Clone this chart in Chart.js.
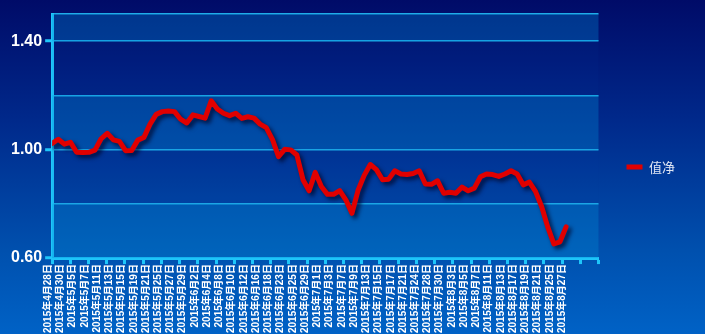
<!DOCTYPE html>
<html>
<head>
<meta charset="utf-8">
<script src="https://cdn.jsdelivr.net/npm/chart.js@4/dist/chart.umd.min.js"></script>
<style>
    html, body { margin: 0; padding: 0; }
    body { background: linear-gradient(to bottom, #000b68 0%, #00288a 35%, #0050ae 75%, #0062c6 100%); }
    #wrap { position: relative; width: 705px; height: 334px; }
</style>
</head>
<body>
<div id="wrap"><canvas id="navChart"></canvas></div>
<script>
// Trading days (x categories)
const dates = [
    '2015年4月28日', '2015年4月29日', '2015年4月30日', '2015年5月4日', '2015年5月5日', '2015年5月6日', '2015年5月7日', '2015年5月8日',
    '2015年5月11日', '2015年5月12日', '2015年5月13日', '2015年5月14日', '2015年5月15日', '2015年5月18日', '2015年5月19日', '2015年5月20日',
    '2015年5月21日', '2015年5月22日', '2015年5月25日', '2015年5月26日', '2015年5月27日', '2015年5月28日', '2015年5月29日', '2015年6月1日',
    '2015年6月2日', '2015年6月3日', '2015年6月4日', '2015年6月5日', '2015年6月8日', '2015年6月9日', '2015年6月10日', '2015年6月11日',
    '2015年6月12日', '2015年6月15日', '2015年6月16日', '2015年6月17日', '2015年6月18日', '2015年6月19日', '2015年6月23日', '2015年6月24日',
    '2015年6月25日', '2015年6月26日', '2015年6月29日', '2015年6月30日', '2015年7月1日', '2015年7月2日', '2015年7月3日', '2015年7月6日',
    '2015年7月7日', '2015年7月8日', '2015年7月9日', '2015年7月10日', '2015年7月13日', '2015年7月14日', '2015年7月15日', '2015年7月16日',
    '2015年7月17日', '2015年7月20日', '2015年7月21日', '2015年7月23日', '2015年7月24日', '2015年7月27日', '2015年7月28日', '2015年7月29日',
    '2015年7月30日', '2015年7月31日', '2015年8月3日', '2015年8月4日', '2015年8月5日', '2015年8月6日', '2015年8月7日', '2015年8月10日',
    '2015年8月11日', '2015年8月12日', '2015年8月13日', '2015年8月14日', '2015年8月17日', '2015年8月18日', '2015年8月19日', '2015年8月20日',
    '2015年8月21日', '2015年8月24日', '2015年8月25日', '2015年8月26日', '2015年8月27日'
];

// 值净 series
const navValues = [
    1.023, 1.038, 1.020, 1.027, 0.990, 0.989, 0.990, 0.998, 1.040, 1.060,
    1.036, 1.030, 0.996, 0.997, 1.035, 1.045, 1.094, 1.130, 1.140, 1.142,
    1.140, 1.112, 1.098, 1.128, 1.122, 1.116, 1.180, 1.150, 1.134, 1.125,
    1.134, 1.115, 1.121, 1.116, 1.094, 1.081, 1.038, 0.974, 1.001, 0.999,
    0.980, 0.889, 0.848, 0.916, 0.864, 0.835, 0.835, 0.849, 0.815, 0.765,
    0.850, 0.905, 0.945, 0.926, 0.889, 0.891, 0.922, 0.910, 0.908, 0.912,
    0.922, 0.873, 0.872, 0.885, 0.839, 0.843, 0.839, 0.862, 0.848, 0.858,
    0.900, 0.910, 0.908, 0.901, 0.910, 0.922, 0.910, 0.870, 0.880, 0.846,
    0.790, 0.715, 0.652, 0.660, 0.715
];

// y tick labels that are printed
const yLabels = [0.60, 1.00, 1.40];

const seriesName = '值净';

const cyan = '#1ec6fa';
const gridCyan = 'rgba(34, 182, 240, 0.95)';

function isLabelled(v) {
    return yLabels.some(l => Math.abs(l - v) < 1e-6);
}

// alternating bands behind the grid
const bandPlugin = {
    id: 'bands',
    beforeDatasetsDraw(chart) {
        const { ctx, chartArea, scales } = chart;
        const ticks = scales.y.ticks;
        ctx.save();
        for (let i = 0; i < ticks.length - 1; i++) {
            const yBottom = scales.y.getPixelForValue(ticks[i].value);
            const yTop = scales.y.getPixelForValue(ticks[i + 1].value);
            ctx.fillStyle = i % 2 === 0 ? 'rgba(0, 140, 215, 0.32)' : 'rgba(0, 60, 170, 0.08)';
            ctx.fillRect(chartArea.left, yTop, chartArea.right - chartArea.left, yBottom - yTop);
        }
        ctx.restore();
    }
};

// drop shadow under the red line
const shadowPlugin = {
    id: 'lineShadow',
    beforeDatasetDraw(chart) {
        const ctx = chart.ctx;
        ctx.save();
        ctx.shadowColor = 'rgba(0, 5, 40, 0.75)';
        ctx.shadowBlur = 4;
        ctx.shadowOffsetX = 3;
        ctx.shadowOffsetY = 3;
    },
    afterDatasetDraw(chart) {
        chart.ctx.restore();
    }
};

const ctx = document.getElementById('navChart').getContext('2d');
new Chart(ctx, {
    type: 'line',
    data: {
        datasets: [{
            label: seriesName,
            data: navValues.map((v, i) => ({ x: i, y: v })),
            xAxisID: 'x',
            yAxisID: 'y',
            borderColor: '#e00000',
            backgroundColor: '#e00000',
            borderWidth: 5,
            borderJoinStyle: 'round',
            borderCapStyle: 'round',
            pointRadius: 0,
            tension: 0,
            fill: false
        }]
    },
    options: {
        responsive: true,
        maintainAspectRatio: false,
        animation: false,
        layout: {
            padding: { top: 1, left: 8, right: 20, bottom: 1 }
        },
        plugins: {
            tooltip: { enabled: false },
            legend: {
                position: 'right',
                labels: {
                    usePointStyle: true,
                    pointStyle: 'line',
                    pointStyleWidth: 16,
                    boxHeight: 14,
                    padding: 28,
                    color: '#dfe6f4',
                    font: { family: '"Noto Sans CJK SC", sans-serif', size: 13 }
                }
            }
        },
        scales: {
            x: {
                type: 'linear',
                position: 'bottom',
                weight: 1,
                min: 0,
                max: 89.3,
                grid: { display: false, drawTicks: false },
                border: { display: false },
                ticks: {
                    stepSize: 1,
                    autoSkip: false,
                    maxTicksLimit: 200,
                    minRotation: 90,
                    maxRotation: 90,
                    padding: 0,
                    labelOffset: -4,
                    color: '#ffffff',
                    font: { family: '"Liberation Sans", "Noto Sans CJK SC", sans-serif', size: 10, weight: 'bold' },
                    callback: (value) => {
                        const i = Math.round(value);
                        if (Math.abs(value - i) > 1e-6 || i % 2 !== 0 || i >= dates.length) return null;
                        return dates[i];
                    }
                }
            },
            x2: {
                type: 'linear',
                position: 'bottom',
                weight: 0,
                min: 0,
                max: 30,
                grid: {
                    drawOnChartArea: false,
                    drawTicks: true,
                    tickLength: 6,
                    tickWidth: 3,
                    tickColor: cyan
                },
                border: { display: true, color: cyan, width: 3 },
                ticks: { display: false, stepSize: 1 }
            },
            // empty strip above the plot
            xTop: {
                type: 'linear',
                axis: 'x',
                position: 'top',
                min: 0,
                max: 1,
                grid: { drawOnChartArea: false, drawTicks: true, tickLength: 13, tickColor: 'rgba(0,0,0,0)' },
                border: { display: false },
                ticks: { display: false }
            },
            y: {
                min: 0.6,
                max: 1.5,
                grid: {
                    color: gridCyan,
                    lineWidth: 1.5,
                    tickLength: 7,
                    tickWidth: 3,
                    tickColor: (c) => (c.tick && isLabelled(c.tick.value)) ? cyan : 'rgba(0,0,0,0)'
                },
                border: { display: true, color: cyan, width: 3 },
                ticks: {
                    stepSize: 0.2,
                    padding: 3,
                    color: '#ffffff',
                    font: { family: '"Liberation Sans", Arial, sans-serif', size: 16, weight: 'bold' },
                    callback: (value) => isLabelled(value) ? Number(value).toFixed(2) : ''
                }
            }
        }
    },
    plugins: [bandPlugin, shadowPlugin]
});
</script>
</body>
</html>
